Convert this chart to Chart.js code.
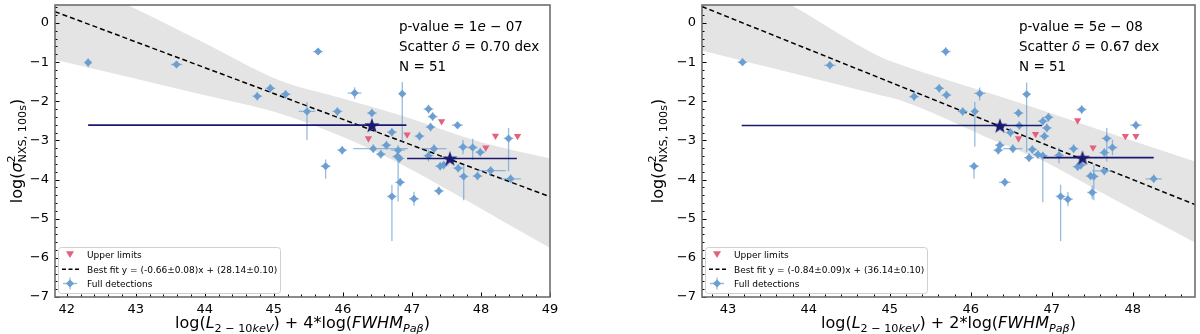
<!DOCTYPE html>
<html>
<head>
<meta charset="utf-8">
<script src="https://cdn.jsdelivr.net/npm/chart.js@4.4.0/dist/chart.umd.min.js"></script>
<style>
  html, body { margin: 0; padding: 0; background: #fff; }
  .panel { position: absolute; top: 0; width: 600px; height: 334px; }
  #wrapL { left: 0; }
  #wrapR { left: 600px; }
</style>
</head>
<body>
<div class="panel" id="wrapL"><canvas id="chartL"></canvas></div>
<div class="panel" id="wrapR"><canvas id="chartR"></canvas></div>
<script>
"use strict";

// ---- data: left panel (4*log FWHM) ----
const leftDetX  = [42.31, 43.59, 44.76, 44.95, 45.17, 45.48, 45.64, 45.92, 46.17, 46.42, 46.86, 47.24, 47.30, 47.27, 47.66, 46.71, 47.11, 45.99, 46.44, 46.55, 46.63, 46.80, 46.79, 46.82, 45.75, 47.32, 47.24, 47.74, 47.88, 47.99, 48.40, 47.41, 47.46, 47.67, 47.75, 47.95, 48.14, 48.43, 47.39, 46.83, 46.71, 47.03];
const leftDetY  = [-1.01, -1.06, -1.87, -1.67, -1.82, -2.26, -0.73, -2.26, -1.79, -2.30, -1.81, -2.20, -2.39, -2.66, -2.61, -2.79, -2.89, -3.25, -3.21, -3.35, -3.12, -3.25, -3.41, -3.46, -3.66, -3.21, -3.39, -3.17, -3.18, -3.30, -2.95, -3.66, -3.63, -3.71, -3.92, -3.91, -3.77, -3.98, -4.29, -4.07, -4.43, -4.49];
const leftDetXLo = [.05, .08, .07, .07, .07, .12, .07, .07, .10, .07, .05, .07, .07, .07, .08, .07, .07, .07, .29, .07, .07, .10, .07, .07, .07, .19, .07, .07, .07, .07, .07, .07, .07, .07, .07, .07, .19, .15, .07, .07, .07, .07];
const leftDetXHi = [.05, .08, .07, .07, .07, .12, .07, .07, .10, .07, .05, .07, .07, .07, .08, .07, .07, .07, .50, .07, .07, .10, .07, .07, .07, .18, .07, .07, .07, .07, .07, .07, .07, .07, .07, .07, .22, .15, .07, .07, .07, .07];
const leftDetYLo = [.12, .06, .11, .11, .11, .73, .06, .11, .15, .11, 1.22, .11, .11, .11, .08, .11, .11, .11, .11, .11, .11, 1.31, .11, .11, .32, .11, .15, .18, .32, .11, .84, .11, .11, .11, .61, .11, .11, .11, .11, .11, 1.14, .18];
const leftDetYHi = [.10, .06, .11, .11, .11, .24, .06, .11, .15, .11, .30, .11, .11, .11, .08, .11, .11, .11, .11, .11, .11, .13, .11, .11, .17, .11, .15, .18, .22, .11, .27, .11, .11, .11, .30, .11, .11, .11, .11, .11, .30, .18];
const leftUpX = [46.37, 46.93, 47.43, 48.07, 48.21, 48.53];
const leftUpY = [-2.95, -2.85, -2.51, -3.18, -2.88, -2.89];
const leftStarX = [46.42, 47.55];
const leftStarY = [-2.61, -3.46];
const leftStarXLo = [4.11, 0.62];
const leftStarXHi = [0.50, 0.97];
const leftFitX = [41.83, 49.0];
const leftFitY = [0.29, -4.44];
const leftBandX  = [41.83, 42.88, 43.94, 45.09, 45.96, 46.80, 47.99, 49.0];
const leftBandHi = [1.30, 0.46, -0.46, -1.47, -1.91, -2.34, -3.04, -3.46];
const leftBandLo = [-0.94, -1.37, -1.82, -2.31, -2.88, -3.57, -4.73, -5.75];
const leftXTicks = [42, 43, 44, 45, 46, 47, 48, 49];

// ---- data: right panel (2*log FWHM) ----
const rightDetX  = [43.18, 44.26, 45.69, 45.61, 45.70, 45.30, 46.11, 46.69, 45.90, 46.05, 46.59, 47.37, 46.96, 46.89, 46.94, 46.60, 48.04, 46.91, 46.49, 46.36, 46.34, 46.52, 46.76, 46.72, 46.83, 46.89, 47.09, 47.27, 47.68, 47.75, 47.65, 46.04, 46.42, 47.11, 47.20, 47.50, 47.32, 47.36, 47.48, 47.52, 47.65, 48.26];
const rightDetY  = [-1.00, -1.08, -0.73, -1.67, -1.84, -1.88, -1.80, -1.82, -2.26, -2.26, -2.30, -2.21, -2.41, -2.51, -2.68, -2.62, -2.61, -2.89, -2.80, -3.12, -3.25, -3.21, -3.23, -3.44, -3.36, -3.39, -3.38, -3.21, -2.95, -3.18, -3.31, -3.66, -4.07, -4.43, -4.50, -4.33, -3.67, -3.63, -3.91, -3.92, -3.78, -3.98];
const rightDetXLo = [.06, .07, .06, .06, .06, .06, .07, .05, .06, .05, .06, .06, .06, .06, .06, .06, .07, .06, .06, .06, .06, .12, .06, .06, .06, .06, .06, .06, .06, .06, .06, .06, .07, .06, .06, .06, .06, .06, .06, .06, .15, .10];
const rightDetXHi = [.06, .07, .06, .06, .06, .06, .07, .05, .06, .05, .06, .06, .06, .06, .06, .06, .07, .06, .06, .06, .06, .12, .06, .06, .06, .06, .06, .06, .06, .06, .06, .06, .07, .06, .06, .06, .06, .06, .06, .06, .10, .10];
const rightDetYLo = [.10, .11, .11, .11, .11, .11, .18, 1.48, .11, .90, .11, .11, .11, .11, .11, .11, .11, .11, .11, .11, .11, .11, .11, .11, .11, 1.19, .20, .11, .59, .20, .11, .31, .11, 1.14, .18, .17, .11, .11, .11, .61, .11, .11];
const rightDetYHi = [.10, .11, .11, .11, .11, .11, .15, .30, .11, .24, .11, .11, .11, .11, .11, .11, .11, .11, .11, .11, .11, .11, .11, .11, .11, .10, .20, .11, .27, .20, .11, .10, .11, .30, .18, .17, .11, .11, .11, .30, .11, .11];
const rightUpX = [47.32, 46.59, 46.80, 47.51, 47.91, 48.04];
const rightUpY = [-2.49, -2.95, -2.84, -3.18, -2.89, -2.89];
const rightStarX = [46.36, 47.38];
const rightStarY = [-2.62, -3.44];
const rightStarXLo = [3.19, 0.48];
const rightStarXHi = [0.52, 0.88];
const rightFitX = [42.68, 48.77];
const rightFitY = [0.42, -4.64];
const rightBandX  = [42.68, 43.78, 44.86, 45.11, 46.33, 46.91, 47.56, 48.77];
const rightBandHi = [1.70, 0.46, -0.84, -1.05, -1.86, -2.25, -2.71, -3.54];
const rightBandLo = [-0.70, -1.27, -1.83, -1.96, -3.04, -3.54, -4.27, -5.61];
const rightXTicks = [43, 44, 45, 46, 47, 48];

const yTicks = [0, -1, -2, -3, -4, -5, -6, -7];
const legendLabels = ["Upper limits", "Best fit", "Full detections"];
const leftFitLabel  = "Best fit y = (-0.66\u00b10.08)x + (28.14\u00b10.10)";
const rightFitLabel = "Best fit y = (-0.84\u00b10.09)x + (36.14\u00b10.10)";

// ---- styles ----
const FONT = "'DejaVu Sans', sans-serif";
const BLUE = "#6b9fd1";
const BLUE_ERR = "rgba(107,159,209,0.7)";
const PINK = "#e4607d";
const NAVY = "#191970";
const BAND = "#e4e4e4";

Chart.defaults.font.family = FONT;
Chart.defaults.color = "#000";

// ---- helpers ----
const pts = (xs, ys) => xs.map((x, i) => ({ x, y: ys[i] }));
const pairs = (a, b) => a.map((v, i) => [v, b[i]]);
const fmtTick = v => v < 0 ? "\u2212" + Math.abs(v) : String(v);
const font = (size, it) => `${it ? "italic " : ""}${size}px ${FONT}`;

function starImage(r, color) {
  const size = Math.ceil(r * 2) + 2;
  const c = document.createElement("canvas");
  c.width = c.height = size;
  const g = c.getContext("2d");
  g.translate(size / 2, size / 2 + r * 0.1);
  g.beginPath();
  for (let i = 0; i < 10; i++) {
    const a = -Math.PI / 2 + i * Math.PI / 5;
    const rr = i % 2 ? r * 0.4 : r;
    g.lineTo(rr * Math.cos(a), rr * Math.sin(a));
  }
  g.closePath();
  g.fillStyle = color;
  g.fill();
  return c;
}
const starImg = starImage(8, NAVY);

// rich text: runs of {t, it, sub} or {pair:[sup, sub]}
function runWidth(ctx, r, size) {
  if (r.pair) {
    ctx.font = font(size * 0.7, false);
    return Math.max(ctx.measureText(r.pair[0]).width, ctx.measureText(r.pair[1]).width);
  }
  ctx.font = font(r.sub ? size * 0.7 : size, r.it);
  return ctx.measureText(r.t).width;
}
function drawRuns(ctx, runs, x, y, size, align) {
  const total = runs.reduce((s, r) => s + runWidth(ctx, r, size), 0);
  let cx = align === "center" ? x - total / 2 : x;
  ctx.textAlign = "left";
  ctx.textBaseline = "alphabetic";
  runs.forEach(r => {
    const w = runWidth(ctx, r, size);
    if (r.pair) {
      ctx.font = font(size * 0.7, false);
      ctx.fillText(r.pair[0], cx, y - size * 0.42);
      ctx.fillText(r.pair[1], cx, y + size * 0.26);
    } else {
      ctx.font = font(r.sub ? size * 0.7 : size, r.it);
      ctx.fillText(r.t, cx, y + (r.sub ? size * 0.26 : 0));
    }
    cx += w;
  });
}

// ---- plugins ----
const errorBars = {
  id: "errorBars",
  beforeDatasetDraw(chart, args) {
    const ds = chart.data.datasets[args.index];
    if (!ds.errX) return;
    const { ctx, scales: { x, y } } = chart;
    ctx.save();
    ctx.strokeStyle = ds.errColor;
    ctx.lineWidth = ds.errWidth;
    ds.data.forEach((p, i) => {
      const px = x.getPixelForValue(p.x), py = y.getPixelForValue(p.y);
      const [xl, xh] = ds.errX[i];
      ctx.beginPath();
      ctx.moveTo(x.getPixelForValue(p.x - xl), py);
      ctx.lineTo(x.getPixelForValue(p.x + xh), py);
      if (ds.errY) {
        const [yl, yh] = ds.errY[i];
        ctx.moveTo(px, y.getPixelForValue(p.y - yl));
        ctx.lineTo(px, y.getPixelForValue(p.y + yh));
      }
      ctx.stroke();
    });
    ctx.restore();
  }
};

const decor = {
  id: "decor",
  afterDraw(chart, args, o) {
    const { ctx, chartArea: a, scales: { x, y } } = chart;
    ctx.save();

    // inward ticks
    ctx.strokeStyle = "#000";
    ctx.lineWidth = 1;
    ctx.beginPath();
    for (let k = Math.ceil(x.min * 5); k <= Math.floor(x.max * 5); k++) {
      const px = Math.round(x.getPixelForValue(k / 5)) + 0.5;
      const len = k % 5 === 0 ? 4.5 : 2.5;
      ctx.moveTo(px, a.bottom); ctx.lineTo(px, a.bottom - len);
    }
    for (let k = Math.ceil(y.min * 5); k <= Math.floor(y.max * 5); k++) {
      const py = Math.round(y.getPixelForValue(k / 5)) + 0.5;
      const len = k % 5 === 0 ? 4.5 : 2.5;
      ctx.moveTo(a.left, py); ctx.lineTo(a.left + len, py);
    }
    ctx.stroke();

    // frame
    ctx.strokeStyle = "#6e6e6e";
    ctx.lineWidth = 1.6;
    ctx.strokeRect(a.left, a.top, a.width, a.height);

    // stats text
    ctx.fillStyle = "#000";
    const tx = a.left + o.textDx;
    drawRuns(ctx, [{ t: "p-value = " + o.pMant }, { t: "e", it: true }, { t: " \u2212 " + o.pExp }], tx, a.top + 26.3, 13.5);
    drawRuns(ctx, [{ t: "Scatter " }, { t: "\u03b4", it: true }, { t: " = " + o.scatter + " dex" }], tx, a.top + 46.3, 13.5);
    drawRuns(ctx, [{ t: "N = " + o.n }], tx, a.top + 66.3, 13.5);

    // legend
    const bx = a.left + 3, by = a.bottom - 50, bw = 222, bh = 46;
    ctx.fillStyle = "rgba(255,255,255,0.85)";
    ctx.strokeStyle = "#d0d0d0";
    ctx.lineWidth = 1;
    ctx.beginPath();
    ctx.roundRect(bx + 0.5, by + 0.5, bw, bh, 3);
    ctx.fill(); ctx.stroke();
    const mx = bx + 12;
    const rows = [by + 7.5, by + 22.3, by + 36.5];
    // upper limit marker
    ctx.fillStyle = PINK;
    ctx.beginPath();
    ctx.moveTo(mx - 4, rows[0] - 3.2); ctx.lineTo(mx + 4, rows[0] - 3.2); ctx.lineTo(mx, rows[0] + 3.6);
    ctx.closePath(); ctx.fill();
    // fit line
    ctx.strokeStyle = "#000"; ctx.lineWidth = 1.5; ctx.setLineDash([4, 2.5]);
    ctx.beginPath(); ctx.moveTo(mx - 8, rows[1]); ctx.lineTo(mx + 9, rows[1]); ctx.stroke();
    ctx.setLineDash([]);
    // detection marker
    ctx.strokeStyle = BLUE_ERR; ctx.lineWidth = 1.3;
    ctx.beginPath();
    ctx.moveTo(mx - 7, rows[2]); ctx.lineTo(mx + 7, rows[2]);
    ctx.moveTo(mx, rows[2] - 6); ctx.lineTo(mx, rows[2] + 6);
    ctx.stroke();
    ctx.fillStyle = BLUE;
    ctx.beginPath();
    ctx.moveTo(mx, rows[2] - 4); ctx.lineTo(mx + 4, rows[2]); ctx.lineTo(mx, rows[2] + 4); ctx.lineTo(mx - 4, rows[2]);
    ctx.closePath(); ctx.fill();
    ctx.fillStyle = "#000";
    const labels = [legendLabels[0], o.fitLabel, legendLabels[2]];
    labels.forEach((t, i) => drawRuns(ctx, [{ t }], bx + 29, rows[i] + 3.3, 9));

    // axis titles
    drawRuns(ctx, [
      { t: "log(" }, { t: "L", it: true }, { t: "2 \u2212 10", sub: true }, { t: "keV", it: true, sub: true },
      { t: ") + " + o.factor + "*log(" }, { t: "FWHM", it: true }, { t: "Pa\u03b2", it: true, sub: true }, { t: ")" }
    ], (a.left + a.right) / 2, 328, 16, "center");

    ctx.translate(o.yTitleX, (a.top + a.bottom) / 2);
    ctx.rotate(-Math.PI / 2);
    drawRuns(ctx, [
      { t: "log(" }, { t: "\u03c3", it: true }, { pair: ["2", "NXS, 100s"] }, { t: ")" }
    ], 0, 0, 16, "center");

    ctx.restore();
  }
};

function makeChart(id, p) {
  return new Chart(document.getElementById(id), {
    type: "line",
    data: {
      datasets: [
        { label: "AGN bins", data: pts(p.starX, p.starY), showLine: false, pointStyle: starImg,
          errX: pairs(p.starXLo, p.starXHi), errY: null, errColor: NAVY, errWidth: 1.6 },
        { label: legendLabels[0], data: pts(p.upX, p.upY), showLine: false, pointStyle: "triangle", rotation: 180,
          pointRadius: 4.2, backgroundColor: PINK, borderColor: PINK, borderWidth: 0 },
        { label: legendLabels[2], data: pts(p.detX, p.detY), showLine: false, pointStyle: "rectRot",
          pointRadius: 4, backgroundColor: BLUE, borderColor: BLUE, borderWidth: 0,
          errX: pairs(p.detXLo, p.detXHi), errY: pairs(p.detYLo, p.detYHi), errColor: BLUE_ERR, errWidth: 1.3 },
        { label: legendLabels[1], data: pts(p.fitX, p.fitY), borderColor: "#000", borderWidth: 1.5,
          borderDash: [5, 3], pointRadius: 0, fill: false },
        { label: "band hi", data: pts(p.bandX, p.bandHi), borderColor: "rgba(0,0,0,0)", pointRadius: 0,
          fill: "+1", backgroundColor: BAND, cubicInterpolationMode: "monotone" },
        { label: "band lo", data: pts(p.bandX, p.bandLo), borderColor: "rgba(0,0,0,0)", pointRadius: 0,
          fill: false, cubicInterpolationMode: "monotone" }
      ]
    },
    options: {
      responsive: true,
      maintainAspectRatio: false,
      animation: false,
      events: [],
      layout: { padding: { left: 0, right: p.padRight, top: 2, bottom: 0 } },
      plugins: {
        legend: { display: false },
        tooltip: { enabled: false },
        decor: p.decor
      },
      scales: {
        x: {
          type: "linear", min: p.xMin, max: p.xMax,
          grid: { display: false, drawTicks: false }, border: { display: false },
          ticks: { padding: 5, color: "#000", font: { size: 13 }, autoSkip: false, maxRotation: 0, callback: fmtTick },
          afterBuildTicks: s => { s.ticks = p.xTicks.map(v => ({ value: v })); },
          afterFit: s => { s.height = 37; s.paddingLeft = 0; s.paddingRight = 0; }
        },
        y: {
          type: "linear", min: -7, max: 0.46,
          grid: { display: false, drawTicks: false }, border: { display: false },
          ticks: { padding: 6, color: "#000", font: { size: 13 }, autoSkip: false, callback: fmtTick },
          afterBuildTicks: s => { s.ticks = yTicks.map(v => ({ value: v })); },
          afterFit: s => { s.width = p.yAxisW; s.paddingTop = 0; s.paddingBottom = 0; }
        }
      }
    },
    plugins: [errorBars, decor]
  });
}

makeChart("chartL", {
  detX: leftDetX, detY: leftDetY, detXLo: leftDetXLo, detXHi: leftDetXHi, detYLo: leftDetYLo, detYHi: leftDetYHi,
  upX: leftUpX, upY: leftUpY, starX: leftStarX, starY: leftStarY, starXLo: leftStarXLo, starXHi: leftStarXHi,
  fitX: leftFitX, fitY: leftFitY, bandX: leftBandX, bandHi: leftBandHi, bandLo: leftBandLo,
  xTicks: leftXTicks, xMin: 41.83, xMax: 49.0, yAxisW: 55, padRight: 50,
  decor: { textDx: 344, pMant: "1", pExp: "07", scatter: "0.70", n: 51, fitLabel: leftFitLabel, factor: 4, yTitleX: 22 }
});

makeChart("chartR", {
  detX: rightDetX, detY: rightDetY, detXLo: rightDetXLo, detXHi: rightDetXHi, detYLo: rightDetYLo, detYHi: rightDetYHi,
  upX: rightUpX, upY: rightUpY, starX: rightStarX, starY: rightStarY, starXLo: rightStarXLo, starXHi: rightStarXHi,
  fitX: rightFitX, fitY: rightFitY, bandX: rightBandX, bandHi: rightBandHi, bandLo: rightBandLo,
  xTicks: rightXTicks, xMin: 42.68, xMax: 48.77, yAxisW: 102, padRight: 2,
  decor: { textDx: 317, pMant: "5", pExp: "08", scatter: "0.67", n: 51, fitLabel: rightFitLabel, factor: 2, yTitleX: 63 }
});
</script>
</body>
</html>
